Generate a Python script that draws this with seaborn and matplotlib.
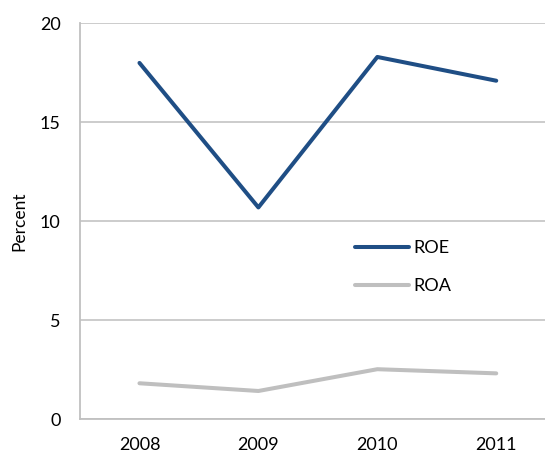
import pandas as pd
import seaborn as sns
import matplotlib.pyplot as plt

years = ["2008", "2009", "2010", "2011"]
roe = [18.0, 10.7, 18.3, 17.1]
roa = [1.82, 1.43, 2.53, 2.32]
series_colors = {"ROE": "#1F4E85", "ROA": "#BFBFBF"}

# long-form table for seaborn
df = pd.DataFrame({
    "year": years * 2,
    "value": roe + roa,
    "series": ["ROE"] * len(years) + ["ROA"] * len(years),
})

sns.set_style("white")
plt.rcParams["font.family"] = ["Lato", "DejaVu Sans"]
plt.rcParams["text.color"] = "black"
plt.rcParams["axes.labelcolor"] = "black"
plt.rcParams["xtick.color"] = "black"
plt.rcParams["ytick.color"] = "black"

fig = plt.figure(figsize=(5.45, 4.55), dpi=100)
ax = fig.add_axes([80 / 545, 35.7 / 455, 465 / 545, 396 / 455])

sns.lineplot(data=df, x="year", y="value", hue="series", palette=series_colors,
             linewidth=2.9, ax=ax, sort=False)

ax.set_ylim(0, 20)
ax.set_yticks([0, 5, 10, 15, 20])
ax.set_xlim(-0.5, 3.41)
ax.set_xticks([0, 1, 2, 3])
ax.set_xticklabels(years)
ax.set_xticks([0.5, 1.5, 2.5], minor=True)

ax.grid(axis="y", color="#C8C8C8", linewidth=1.3)
ax.set_axisbelow(True)
for side in ["top", "right"]:
    ax.spines[side].set_visible(False)
for side in ["left", "bottom"]:
    ax.spines[side].set_color("#C0C0C0")
    ax.spines[side].set_linewidth(1.3)

ax.tick_params(axis="both", which="major", length=0, labelsize=13)
ax.tick_params(axis="y", which="major", pad=14)
ax.tick_params(axis="x", which="major", pad=13)
ax.tick_params(axis="x", which="minor", direction="in", length=5,
               color="#C0C0C0", width=1.3)

ax.set_xlabel("")
ax.set_ylabel("Percent", fontsize=12.5, labelpad=9)

ax.legend(loc="center left", bbox_to_anchor=(0.591, 0.384), frameon=False,
          fontsize=13, handlelength=3.0, handletextpad=0.25,
          labelspacing=1.2, borderpad=0, borderaxespad=0)

fig.savefig("out.png", dpi=100)
